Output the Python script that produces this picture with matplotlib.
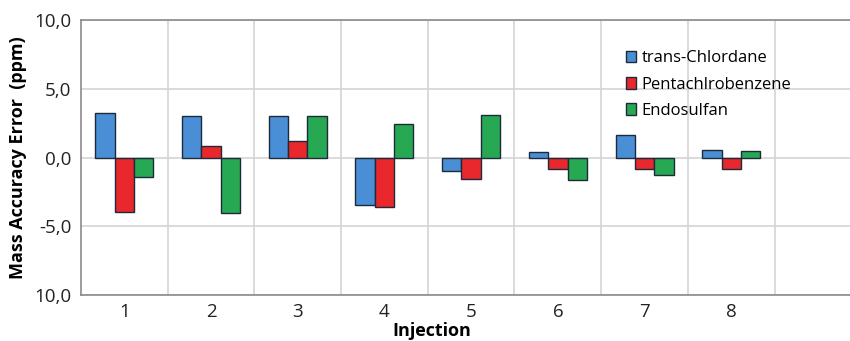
import numpy as np
import matplotlib.pyplot as plt
from matplotlib.ticker import FixedLocator

# Данные
injections = [1, 2, 3, 4, 5, 6, 7, 8]
chlordane = [3.25, 3.03, 3.03, -3.47, -0.95, 0.41, 1.65, 0.58]
pentachl = [-3.95, 0.82, 1.24, -3.59, -1.53, -0.82, -0.82, -0.85]
endosulfan = [-1.40, -4.00, 3.03, 2.42, 3.08, -1.65, -1.29, 0.49]
names = ['trans-Chlordane', 'Pentachlrobenzene', 'Endosulfan']
colors = ['#4a8fd6', '#e8282c', '#27a853']
ytick_vals = [-10, -5, 0, 5, 10]
ytick_labels = ['10,0', '-5,0', '0,0', '5,0', '10,0']

plt.rcParams['font.family'] = ['Open Sans', 'DejaVu Sans']

fig = plt.figure(figsize=(8.5, 3.41), dpi=100)
ax = fig.add_axes([0.0953, 0.135, 0.9047, 0.806])

x = np.array(injections)
w = 0.223
for i, (vals, name, c) in enumerate(zip([chlordane, pentachl, endosulfan], names, colors)):
    ax.bar(x + (i - 1) * w, vals, width=w, color=c, edgecolor='#1e2a3a',
           linewidth=1.0, label=name, zorder=3)

# Оси
ax.set_xlim(0.5, 9.37)
ax.set_ylim(-10, 10)
ax.set_xticks(injections)
ax.xaxis.set_minor_locator(FixedLocator(np.arange(1.5, 9.5, 1.0)))
ax.set_yticks(ytick_vals)
ax.set_yticklabels(ytick_labels)
ax.tick_params(axis='both', which='both', length=0, labelsize=13.5, colors='#222222')
ax.tick_params(axis='y', pad=7)
ax.tick_params(axis='x', pad=6)

ax.grid(True, axis='y', which='major', color='#d4d4d4', linewidth=1.2, zorder=0)
ax.grid(True, axis='x', which='minor', color='#d4d4d4', linewidth=1.2, zorder=0)
ax.grid(False, axis='x', which='major')

for s in ['left', 'bottom', 'top']:
    ax.spines[s].set_color('#8a8a8a')
    ax.spines[s].set_linewidth(1.2)
ax.spines['right'].set_visible(False)

ax.set_ylabel('Mass Accuracy Error  (ppm)', fontsize=13, fontweight='bold', labelpad=5)
ax.set_xlabel('Injection', fontsize=13, fontweight='bold')
ax.xaxis.set_label_coords(0.456, -0.10)

ax.legend(loc='upper left', bbox_to_anchor=(0.689, 0.945), frameon=False, fontsize=12,
          handlelength=0.6, handleheight=0.7, handletextpad=0.35, labelspacing=0.62)

fig.savefig('out.png', dpi=100)
